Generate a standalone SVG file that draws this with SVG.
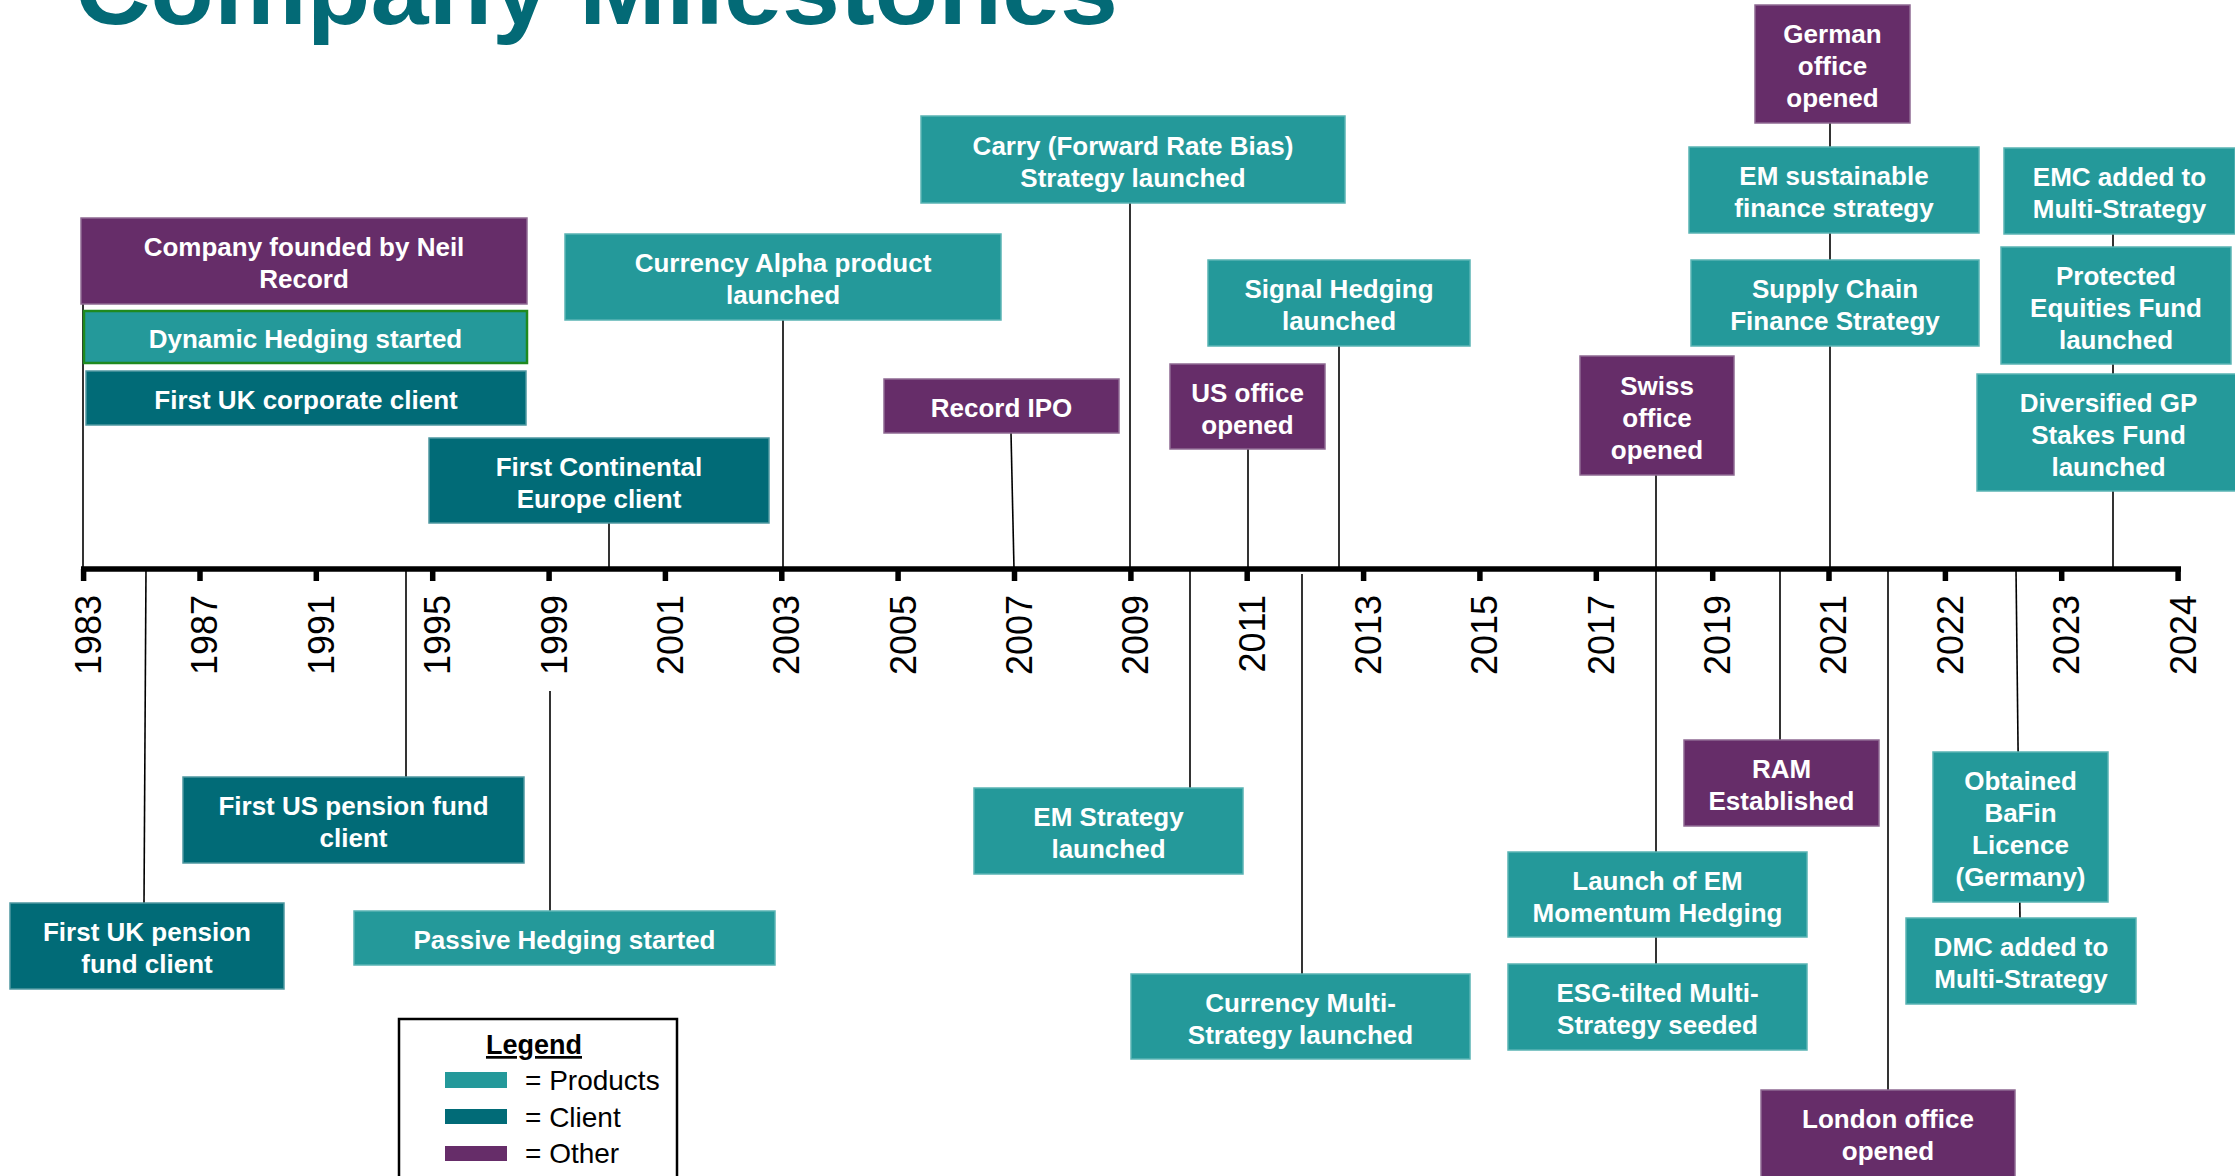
<svg xmlns="http://www.w3.org/2000/svg" width="2235" height="1176" viewBox="0 0 2235 1176">
<style>
.p{fill:#24999a;stroke:#5ab4b4;stroke-width:1.5}
.c{fill:#016b77;stroke:#4f98a1;stroke-width:1.5}
.o{fill:#662d69;stroke:#8f6a93;stroke-width:1.5}
.g{fill:#24999a;stroke:#1f8a1f;stroke-width:2.5}
.t{font-family:"Liberation Sans",Arial,sans-serif;font-weight:bold;font-size:26px;fill:#fff;text-anchor:middle}
.cn{stroke:#000;stroke-width:1.6;fill:none}
.yr{font-family:"Liberation Sans",Arial,sans-serif;font-size:36px;fill:#000;text-anchor:end}
.lg{font-family:"Liberation Sans",Arial,sans-serif;font-size:28px;fill:#000}
</style>
<rect width="2235" height="1176" fill="#fff"/>
<text x="75" y="24" font-family="Liberation Sans,Arial,sans-serif" font-weight="bold" font-size="100" fill="#036a76" textLength="1043" lengthAdjust="spacingAndGlyphs">Company Milestones</text>

<g id="connectors">
<line class="cn" x1="83" y1="304" x2="83" y2="569"/>
<line class="cn" x1="609" y1="523" x2="609" y2="569"/>
<line class="cn" x1="783" y1="320" x2="783" y2="569"/>
<line class="cn" x1="1011" y1="433" x2="1014" y2="569"/>
<line class="cn" x1="1130" y1="203" x2="1130" y2="569"/>
<line class="cn" x1="1339" y1="346" x2="1339" y2="569"/>
<line class="cn" x1="1248" y1="449" x2="1248" y2="569"/>
<line class="cn" x1="1656" y1="475" x2="1656" y2="569"/>
<line class="cn" x1="1830" y1="122" x2="1830" y2="569"/>
<line class="cn" x1="2113" y1="233" x2="2113" y2="569"/>
<line class="cn" x1="146" y1="569" x2="144" y2="903"/>
<line class="cn" x1="406" y1="569" x2="406" y2="777"/>
<line class="cn" x1="550" y1="691" x2="550" y2="911"/>
<line class="cn" x1="1190" y1="569" x2="1190" y2="788"/>
<line class="cn" x1="1302" y1="574" x2="1302" y2="974"/>
<line class="cn" x1="1780" y1="569" x2="1780" y2="740"/>
<line class="cn" x1="1656" y1="569" x2="1656" y2="964"/>
<line class="cn" x1="1888" y1="569" x2="1888" y2="1090"/>
<line class="cn" x1="2016" y1="569" x2="2020" y2="918"/>
</g>

<g id="axis">
<line x1="81" y1="569" x2="2181" y2="569" stroke="#000" stroke-width="5.5"/>
<g stroke="#000" stroke-width="5.5">
<line x1="83.6" y1="569" x2="83.6" y2="581"/><line x1="200" y1="569" x2="200" y2="581"/>
<line x1="316.3" y1="569" x2="316.3" y2="581"/><line x1="432.7" y1="569" x2="432.7" y2="581"/>
<line x1="549.1" y1="569" x2="549.1" y2="581"/><line x1="665.4" y1="569" x2="665.4" y2="581"/>
<line x1="781.8" y1="569" x2="781.8" y2="581"/><line x1="898.1" y1="569" x2="898.1" y2="581"/>
<line x1="1014.5" y1="569" x2="1014.5" y2="581"/><line x1="1130.9" y1="569" x2="1130.9" y2="581"/>
<line x1="1247.2" y1="569" x2="1247.2" y2="581"/><line x1="1363.6" y1="569" x2="1363.6" y2="581"/>
<line x1="1479.9" y1="569" x2="1479.9" y2="581"/><line x1="1596.3" y1="569" x2="1596.3" y2="581"/>
<line x1="1712.7" y1="569" x2="1712.7" y2="581"/><line x1="1829" y1="569" x2="1829" y2="581"/>
<line x1="1945.4" y1="569" x2="1945.4" y2="581"/><line x1="2061.7" y1="569" x2="2061.7" y2="581"/>
<line x1="2178.1" y1="569" x2="2178.1" y2="581"/>
</g>
<text class="yr" transform="translate(101,595) rotate(-90)">1983</text>
<text class="yr" transform="translate(217.4,595) rotate(-90)">1987</text>
<text class="yr" transform="translate(333.7,595) rotate(-90)">1991</text>
<text class="yr" transform="translate(450.1,595) rotate(-90)">1995</text>
<text class="yr" transform="translate(566.5,595) rotate(-90)">1999</text>
<text class="yr" transform="translate(682.8,595) rotate(-90)">2001</text>
<text class="yr" transform="translate(799.2,595) rotate(-90)">2003</text>
<text class="yr" transform="translate(915.5,595) rotate(-90)">2005</text>
<text class="yr" transform="translate(1031.9,595) rotate(-90)">2007</text>
<text class="yr" transform="translate(1148.3,595) rotate(-90)">2009</text>
<text class="yr" transform="translate(1264.6,595) rotate(-90)">2011</text>
<text class="yr" transform="translate(1381,595) rotate(-90)">2013</text>
<text class="yr" transform="translate(1497.3,595) rotate(-90)">2015</text>
<text class="yr" transform="translate(1613.7,595) rotate(-90)">2017</text>
<text class="yr" transform="translate(1730.1,595) rotate(-90)">2019</text>
<text class="yr" transform="translate(1846.4,595) rotate(-90)">2021</text>
<text class="yr" transform="translate(1962.8,595) rotate(-90)">2022</text>
<text class="yr" transform="translate(2079.1,595) rotate(-90)">2023</text>
<text class="yr" transform="translate(2195.5,595) rotate(-90)">2024</text>
</g>

<g id="n1"><rect class="o" x="81" y="218" width="446" height="86"/><text class="t" x="304" y="256">Company founded by Neil</text><text class="t" x="304" y="288">Record</text></g>
<g id="n2"><rect class="g" x="84" y="311" width="443" height="52"/><text class="t" x="305.5" y="348">Dynamic Hedging started</text></g>
<g id="n3"><rect class="c" x="86" y="371" width="440" height="54"/><text class="t" x="306" y="409">First UK corporate client</text></g>
<g id="n4"><rect class="c" x="429" y="438" width="340" height="85"/><text class="t" x="599" y="475.5">First Continental</text><text class="t" x="599" y="507.5">Europe client</text></g>
<g id="n5"><rect class="p" x="565" y="234" width="436" height="86"/><text class="t" x="783" y="272">Currency Alpha product</text><text class="t" x="783" y="304">launched</text></g>
<g id="n6"><rect class="o" x="884" y="379" width="235" height="54"/><text class="t" x="1001.5" y="417">Record IPO</text></g>
<g id="n7"><rect class="p" x="921" y="116" width="424" height="87"/><text class="t" x="1133" y="154.5">Carry (Forward Rate Bias)</text><text class="t" x="1133" y="186.5">Strategy launched</text></g>
<g id="n8"><rect class="p" x="1208" y="260" width="262" height="86"/><text class="t" x="1339" y="298">Signal Hedging</text><text class="t" x="1339" y="330">launched</text></g>
<g id="n9"><rect class="o" x="1170" y="364" width="155" height="85"/><text class="t" x="1247.5" y="401.5">US office</text><text class="t" x="1247.5" y="433.5">opened</text></g>
<g id="n10"><rect class="o" x="1580" y="356" width="154" height="119"/><text class="t" x="1657" y="394.5">Swiss</text><text class="t" x="1657" y="426.5">office</text><text class="t" x="1657" y="458.5">opened</text></g>
<g id="n11"><rect class="o" x="1755" y="5" width="155" height="118"/><text class="t" x="1832.5" y="43">German</text><text class="t" x="1832.5" y="75">office</text><text class="t" x="1832.5" y="107">opened</text></g>
<g id="n12"><rect class="p" x="1689" y="147" width="290" height="86"/><text class="t" x="1834" y="185">EM sustainable</text><text class="t" x="1834" y="217">finance strategy</text></g>
<g id="n13"><rect class="p" x="1691" y="260" width="288" height="86"/><text class="t" x="1835" y="298">Supply Chain</text><text class="t" x="1835" y="330">Finance Strategy</text></g>
<g id="n14"><rect class="p" x="2004" y="148" width="231" height="86"/><text class="t" x="2119.5" y="186">EMC added to</text><text class="t" x="2119.5" y="218">Multi-Strategy</text></g>
<g id="n15"><rect class="p" x="2001" y="247" width="230" height="117"/><text class="t" x="2116" y="284.5">Protected</text><text class="t" x="2116" y="316.5">Equities Fund</text><text class="t" x="2116" y="348.5">launched</text></g>
<g id="n16"><rect class="p" x="1977" y="374" width="263" height="117"/><text class="t" x="2108.5" y="411.5">Diversified GP</text><text class="t" x="2108.5" y="443.5">Stakes Fund</text><text class="t" x="2108.5" y="475.5">launched</text></g>
<g id="n17"><rect class="c" x="10" y="903" width="274" height="86"/><text class="t" x="147" y="941">First UK pension</text><text class="t" x="147" y="973">fund client</text></g>
<g id="n18"><rect class="c" x="183" y="777" width="341" height="86"/><text class="t" x="353.5" y="815">First US pension fund</text><text class="t" x="353.5" y="847">client</text></g>
<g id="n19"><rect class="p" x="354" y="911" width="421" height="54"/><text class="t" x="564.5" y="949">Passive Hedging started</text></g>
<g id="n20"><rect class="p" x="974" y="788" width="269" height="86"/><text class="t" x="1108.5" y="826">EM Strategy</text><text class="t" x="1108.5" y="858">launched</text></g>
<g id="n21"><rect class="p" x="1131" y="974" width="339" height="85"/><text class="t" x="1300.5" y="1011.5">Currency Multi-</text><text class="t" x="1300.5" y="1043.5">Strategy launched</text></g>
<g id="n22"><rect class="o" x="1684" y="740" width="195" height="86"/><text class="t" x="1781.5" y="778">RAM</text><text class="t" x="1781.5" y="810">Established</text></g>
<g id="n23"><rect class="p" x="1508" y="852" width="299" height="85"/><text class="t" x="1657.5" y="889.5">Launch of EM</text><text class="t" x="1657.5" y="921.5">Momentum Hedging</text></g>
<g id="n24"><rect class="p" x="1508" y="964" width="299" height="86"/><text class="t" x="1657.5" y="1002">ESG-tilted Multi-</text><text class="t" x="1657.5" y="1034">Strategy seeded</text></g>
<g id="n25"><rect class="o" x="1761" y="1090" width="254" height="92"/><text class="t" x="1888" y="1128">London office</text><text class="t" x="1888" y="1160">opened</text></g>
<g id="n26"><rect class="p" x="1933" y="752" width="175" height="150"/><text class="t" x="2020.5" y="790">Obtained</text><text class="t" x="2020.5" y="822">BaFin</text><text class="t" x="2020.5" y="854">Licence</text><text class="t" x="2020.5" y="886">(Germany)</text></g>
<g id="n27"><rect class="p" x="1906" y="918" width="230" height="86"/><text class="t" x="2021" y="956">DMC added to</text><text class="t" x="2021" y="988">Multi-Strategy</text></g>

<g id="legend">
<rect x="399" y="1019" width="278" height="170" fill="#fff" stroke="#000" stroke-width="2.5"/>
<text x="534" y="1054" font-family="Liberation Sans,Arial,sans-serif" font-weight="bold" font-size="27" fill="#000" text-anchor="middle" text-decoration="underline">Legend</text>
<rect x="445" y="1072" width="62" height="16" fill="#24999a"/>
<rect x="445" y="1109" width="62" height="15" fill="#016b77"/>
<rect x="445" y="1146" width="62" height="15" fill="#662d69"/>
<text class="lg" x="525" y="1090">= Products</text>
<text class="lg" x="525" y="1127">= Client</text>
<text class="lg" x="525" y="1163">= Other</text>
</g>
</svg>
